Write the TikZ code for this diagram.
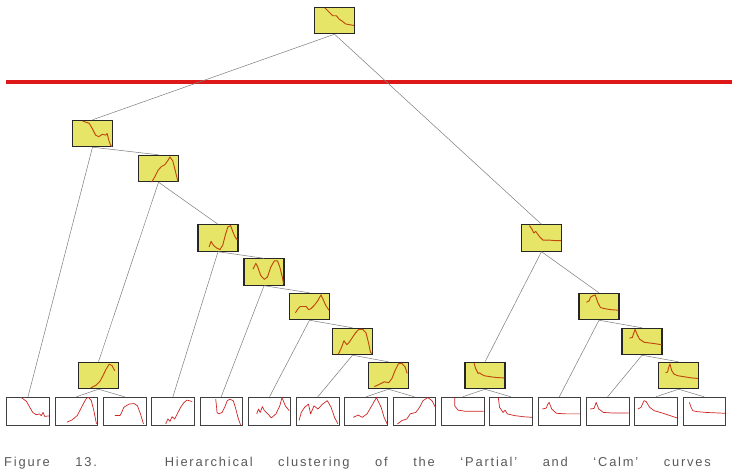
\documentclass[tikz,border=0pt]{standalone}
\usepackage{fontspec}
\setmainfont{Liberation Sans}
\newfontfamily\capfont[LetterSpace=14]{Liberation Sans}

\definecolor{boxyellow}{RGB}{231,229,104}
\definecolor{cutred}{RGB}{222,24,24}
\definecolor{tracebrown}{RGB}{192,72,12}
\definecolor{tracered}{RGB}{206,36,36}

\tikzset{
  cluster/.style={draw=black!85, line width=0.9pt, fill=boxyellow,
    minimum width=1.2cm, minimum height=0.79cm, inner sep=0pt},
  leaf/.style={draw=black!75, line width=0.6pt, fill=white,
    minimum width=1.28cm, minimum height=0.86cm, inner sep=0pt},
  link/.style={draw=gray, line width=0.45pt},
  cuttrace/.style={tracebrown, line width=0.8pt, line join=round},
  leaftrace/.style={tracered, line width=0.6pt, line join=round},
  cutline/.style={cutred, line width=3.6pt}
}

% curve inside a yellow box / inside a leaf, points from 0 to 1
\newcommand{\clustertrace}[2]{\draw[cuttrace,shift={(#1.south west)},x=1.2cm,y=0.79cm] plot coordinates {#2};}
\newcommand{\leafcurve}[2]{\draw[leaftrace,shift={(#1.south west)},x=1.28cm,y=0.86cm] plot coordinates {#2};}

\begin{document}
\begin{tikzpicture}[x=0.03cm,y=-0.03cm]
\useasboundingbox (0,0) rectangle (732,471);

% cut level
\draw[cutline] (6,82) -- (732,82);

% top one
\node[cluster] (root) at (334.5,20.5) {};

% left branch
\node[cluster] (lA) at (92.5,133.5) {};
\node[cluster] (lB) at (158.5,168.5) {};
\node[cluster] (lC) at (218,238) {};
\node[cluster] (lD) at (264,272) {};
\node[cluster] (lE) at (309.5,306.5) {};
\node[cluster] (lF) at (352.5,341.5) {};
\node[cluster] (lG) at (388.5,375.5) {};
\node[cluster] (lH) at (98.5,375.5) {};

% right branch
\node[cluster] (rA) at (541.5,238) {};
\node[cluster] (rB) at (599,306.5) {};
\node[cluster] (rC) at (642,341.5) {};
\node[cluster] (rD) at (678.5,375.5) {};
\node[cluster] (rE) at (485,375.5) {};

% leaves
\node[leaf] (s1) at (28,411.5) {};
\node[leaf] (s2) at (76.3,411.5) {};
\node[leaf] (s3) at (124.6,411.5) {};
\node[leaf] (s4) at (172.9,411.5) {};
\node[leaf] (s5) at (221.2,411.5) {};
\node[leaf] (s6) at (269.5,411.5) {};
\node[leaf] (s7) at (317.8,411.5) {};
\node[leaf] (s8) at (366.1,411.5) {};
\node[leaf] (s9) at (414.4,411.5) {};
\node[leaf] (s10) at (462.7,411.5) {};
\node[leaf] (s11) at (511,411.5) {};
\node[leaf] (s12) at (559.3,411.5) {};
\node[leaf] (s13) at (607.6,411.5) {};
\node[leaf] (s14) at (655.9,411.5) {};
\node[leaf] (s15) at (704.2,411.5) {};

% links
\draw[link] (root.south) -- (lA.north);
\draw[link] (root.south) -- (rA.north);

\draw[link] (lA.south) -- (s1.north);
\draw[link] (lA.south) -- (lB.north);
\draw[link] (lB.south) -- (lH.north);
\draw[link] (lB.south) -- (lC.north);
\draw[link] (lH.south) -- (s2.north);
\draw[link] (lH.south) -- (s3.north);
\draw[link] (lC.south) -- (s4.north);
\draw[link] (lC.south) -- (lD.north);
\draw[link] (lD.south) -- (s5.north);
\draw[link] (lD.south) -- (lE.north);
\draw[link] (lE.south) -- (s6.north);
\draw[link] (lE.south) -- (lF.north);
\draw[link] (lF.south) -- (s7.north);
\draw[link] (lF.south) -- (lG.north);
\draw[link] (lG.south) -- (s8.north);
\draw[link] (lG.south) -- (s9.north);

\draw[link] (rA.south) -- (rE.north);
\draw[link] (rA.south) -- (rB.north);
\draw[link] (rE.south) -- (s10.north);
\draw[link] (rE.south) -- (s11.north);
\draw[link] (rB.south) -- (s12.north);
\draw[link] (rB.south) -- (rC.north);
\draw[link] (rC.south) -- (s13.north);
\draw[link] (rC.south) -- (rD.north);
\draw[link] (rD.south) -- (s14.north);
\draw[link] (rD.south) -- (s15.north);

% curves in the yellow boxes
\clustertrace{root}{(0.27,1.0) (0.39,0.82) (0.47,0.70) (0.56,0.70) (0.63,0.57) (0.71,0.49) (0.79,0.39) (1.0,0.33)}
\clustertrace{lA}{(0.27,0.99) (0.43,0.91) (0.51,0.70) (0.59,0.46) (0.67,0.40) (0.76,0.49) (0.84,0.46) (0.88,0.52) (0.92,0.27) (0.96,0.09) (1.0,0.02)}
\clustertrace{lB}{(0.34,0) (0.42,0.2) (0.50,0.45) (0.59,0.60) (0.67,0.66) (0.75,0.83) (0.80,0.96) (0.87,0.81) (0.93,0.45) (0.98,0.14) (1.0,0.02)}
\clustertrace{lC}{(0.29,0.18) (0.34,0.39) (0.40,0.24) (0.47,0.15) (0.56,0.08) (0.63,0.24) (0.70,0.65) (0.76,0.94) (0.83,0.99) (0.88,0.77) (0.94,0.56) (1.0,0.44)}
\clustertrace{lD}{(0.24,0.63) (0.31,0.85) (0.36,0.70) (0.43,0.39) (0.52,0.24) (0.60,0.33) (0.68,0.70) (0.77,0.94) (0.85,0.94) (0.91,0.70) (0.97,0.33) (1.0,0.09)}
\clustertrace{lE}{(0.16,0.28) (0.23,0.44) (0.28,0.52) (0.37,0.52) (0.43,0.52) (0.49,0.40) (0.55,0.44) (0.63,0.56) (0.72,0.74) (0.80,0.96) (0.85,0.80) (0.92,0.56) (1.0,0.38)}
\clustertrace{lF}{(0.16,0.04) (0.24,0.30) (0.30,0.55) (0.37,0.40) (0.43,0.49) (0.51,0.67) (0.59,0.85) (0.67,0.98) (0.77,0.98) (0.85,0.85) (0.92,0.43) (0.96,0.12) (1.0,0.04)}
\clustertrace{lG}{(0.16,0.10) (0.29,0.19) (0.41,0.28) (0.52,0.25) (0.60,0.41) (0.68,0.72) (0.76,0.96) (0.84,0.99) (0.93,0.84) (0.98,0.60)}
\clustertrace{lH}{(0.32,0.05) (0.45,0.15) (0.55,0.30) (0.62,0.50) (0.70,0.75) (0.78,0.95) (0.85,0.90) (0.92,0.70)}
\clustertrace{rA}{(0.21,0.99) (0.27,0.87) (0.32,0.71) (0.37,0.77) (0.41,0.68) (0.47,0.56) (0.55,0.44) (0.71,0.44) (0.87,0.42) (1.0,0.42)}
\clustertrace{rB}{(0.20,0.68) (0.27,0.74) (0.30,0.87) (0.36,0.93) (0.42,0.96) (0.48,0.68) (0.55,0.48) (0.65,0.44) (0.81,0.40) (1.0,0.38)}
\clustertrace{rC}{(0.20,0.65) (0.27,0.67) (0.31,0.85) (0.34,0.98) (0.39,0.79) (0.45,0.61) (0.57,0.49) (0.78,0.45) (1.0,0.40)}
\clustertrace{rD}{(0.19,0.63) (0.24,0.65) (0.27,0.84) (0.30,0.96) (0.34,0.72) (0.40,0.57) (0.50,0.51) (0.67,0.47) (0.83,0.43) (1.0,0.41)}
\clustertrace{rE}{(0.24,0.99) (0.28,0.78) (0.34,0.60) (0.38,0.62) (0.42,0.57) (0.50,0.51) (0.66,0.47) (0.82,0.44) (1.0,0.43)}

% curves in the leaves
\leafcurve{s1}{(0.35,1.0) (0.47,0.87) (0.55,0.66) (0.62,0.48) (0.70,0.40) (0.78,0.43) (0.82,0.37) (0.86,0.48) (0.90,0.34) (1.0,0.36)}
\leafcurve{s2}{(0.29,0.14) (0.41,0.22) (0.53,0.37) (0.61,0.60) (0.69,0.83) (0.75,0.98) (0.80,1.0) (0.86,0.89) (0.92,0.54) (0.98,0.08)}
\leafcurve{s3}{(0.28,0.37) (0.40,0.37) (0.44,0.48) (0.49,0.66) (0.61,0.77) (0.73,0.79) (0.81,0.71) (0.88,0.43) (0.95,0.08)}
\leafcurve{s4}{(0.34,0.08) (0.39,0.25) (0.44,0.17) (0.49,0.33) (0.55,0.25) (0.61,0.43) (0.69,0.66) (0.77,0.83) (0.84,0.91) (0.96,0.86)}
\leafcurve{s5}{(0.38,0.94) (0.40,0.66) (0.41,0.48) (0.45,0.43) (0.53,0.48) (0.59,0.66) (0.65,0.89) (0.71,0.94) (0.79,0.89) (0.84,0.66) (0.90,0.31) (0.96,0.05)}
\leafcurve{s6}{(0.21,0.43) (0.25,0.60) (0.29,0.48) (0.34,0.68) (0.39,0.54) (0.47,0.43) (0.55,0.29) (0.66,0.43) (0.75,0.71) (0.80,1.0) (0.88,0.71) (0.97,0.54)}
\leafcurve{s7}{(0.07,0.20) (0.12,0.48) (0.20,0.66) (0.29,0.77) (0.34,0.43) (0.42,0.71) (0.51,0.60) (0.62,0.77) (0.73,0.89) (0.82,0.66) (0.90,0.31) (0.98,0.08)}
\leafcurve{s8}{(0.21,0.31) (0.32,0.39) (0.42,0.31) (0.53,0.43) (0.64,0.71) (0.75,1.0) (0.86,0.66) (0.93,0.31) (1.0,0.08)}
\leafcurve{s9}{(0.11,0.08) (0.22,0.20) (0.33,0.25) (0.41,0.43) (0.54,0.48) (0.63,0.66) (0.71,0.89) (0.82,1.0) (0.92,0.89) (1.0,0.66)}
\leafcurve{s10}{(0.32,1.0) (0.32,0.71) (0.40,0.56) (0.57,0.52) (1.0,0.52)}
\leafcurve{s11}{(0.21,1.0) (0.24,0.66) (0.32,0.48) (0.37,0.56) (0.42,0.43) (0.59,0.37) (0.80,0.33) (1.0,0.31)}
\leafcurve{s12}{(0.11,0.60) (0.20,0.63) (0.24,0.77) (0.27,0.83) (0.33,0.60) (0.44,0.45) (0.66,0.43) (1.0,0.43)}
\leafcurve{s13}{(0.10,0.60) (0.19,0.62) (0.24,0.83) (0.30,0.60) (0.41,0.48) (0.63,0.46) (1.0,0.46)}
\leafcurve{s14}{(0.09,0.60) (0.16,0.66) (0.23,0.89) (0.28,0.86) (0.36,0.66) (0.47,0.54) (0.68,0.45) (1.0,0.29)}
\leafcurve{s15}{(0.16,0.83) (0.20,0.66) (0.24,0.54) (0.33,0.51) (0.55,0.48) (1.0,0.45)}

% caption
\node[anchor=north west, inner sep=0pt, text=black!65, font=\capfont\fontsize{11}{13}\selectfont] (caption) at (4,457)
  {\makebox[21.2cm][s]{Figure 13. Hierarchical clustering of the ‘Partial’ and ‘Calm’ curves}};

\end{tikzpicture}
\end{document}
